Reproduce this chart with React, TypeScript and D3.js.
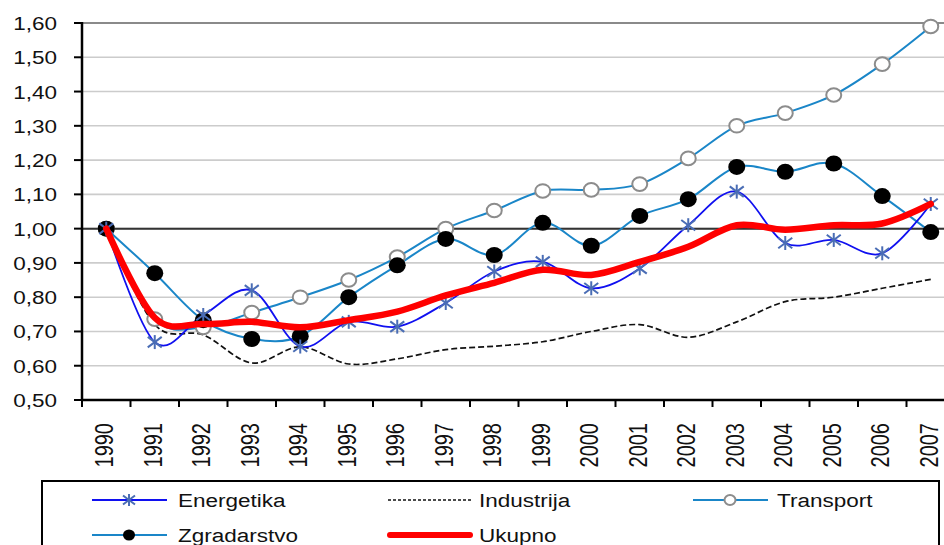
import React from 'react';
import * as d3 from 'd3';

const years = ['1990', '1991', '1992', '1993', '1994', '1995', '1996', '1997', '1998', '1999',
  '2000', '2001', '2002', '2003', '2004', '2005', '2006', '2007'];

const energetika = [1.0, 0.669, 0.748, 0.82, 0.656, 0.728, 0.714, 0.783, 0.875, 0.903,
  0.826, 0.884, 1.01, 1.108, 0.958, 0.967, 0.928, 1.072];
const industrija = [1.0, 0.72, 0.69, 0.608, 0.655, 0.605, 0.62, 0.647, 0.657, 0.67,
  0.70, 0.72, 0.683, 0.728, 0.787, 0.80, 0.826, 0.852];
const transport = [1.0, 0.736, 0.712, 0.755, 0.80, 0.85, 0.917, 1.0, 1.053, 1.11,
  1.113, 1.13, 1.205, 1.30, 1.337, 1.39, 1.48, 1.59];
const zgradarstvo = [1.0, 0.87, 0.733, 0.678, 0.686, 0.80, 0.893, 0.97, 0.923, 1.017,
  0.95, 1.037, 1.086, 1.18, 1.166, 1.19, 1.095, 0.99];
const ukupno = [1.0, 0.74, 0.722, 0.728, 0.712, 0.733, 0.758, 0.805, 0.842, 0.88,
  0.865, 0.903, 0.947, 1.01, 0.997, 1.01, 1.015, 1.072];

const yTicks = [0.5, 0.6, 0.7, 0.8, 0.9, 1.0, 1.1, 1.2, 1.3, 1.4, 1.5, 1.6];

const W = 944;
const H = 545;
const FONT = '"Liberation Sans", Arial, sans-serif';

const x = d3.scaleBand<string>().domain(years).range([82, 955]);
const y = d3.scaleLinear().domain([0.5, 1.6]).range([400, 23]);
const cx = (i: number) => (x(years[i]) as number) + x.bandwidth() / 2;

// excel-ish smoothed lines
const smooth = d3.line<number>()
  .x((_, i) => cx(i))
  .y(d => y(d))
  .curve(d3.curveCatmullRom.alpha(0));

const fmt = (v: number) => v.toFixed(2).replace('.', ',');

function Star({ px, py, s = 7 }: { px: number; py: number; s?: number }) {
  return (
    <g stroke="#4a6db5" strokeWidth={2}>
      <line x1={px - s} y1={py - s * 0.75} x2={px + s} y2={py + s * 0.75} />
      <line x1={px - s} y1={py + s * 0.75} x2={px + s} y2={py - s * 0.75} />
      <line x1={px} y1={py - s} x2={px} y2={py + s} />
    </g>
  );
}

export default function App() {
  const left = 82;
  const right = W;
  return (
    <svg width={W} height={H} style={{ position: 'absolute', left: 0, top: 0, background: '#fff' }}
      fontFamily={FONT}>
      <rect width={W} height={H} fill="#fff" />
      {/* gridlines */}
      {yTicks.map(t => (
        <line key={t} x1={left} x2={right} y1={y(t)} y2={y(t)}
          stroke={t === 1.6 ? '#8a8a8a' : '#cccccc'} strokeWidth={t === 1.6 ? 2 : 1.6} />
      ))}
      {/* reference line at 1.00 */}
      <line x1={left} x2={right} y1={y(1)} y2={y(1)} stroke="#333" strokeWidth={2} />

      {/* y axis */}
      <line x1={left} x2={left} y1={y(1.6) - 1} y2={y(0.5) + 1} stroke="#000" strokeWidth={2.5} />
      {yTicks.map(t => (
        <g key={'yt' + t}>
          <line x1={left - 8} x2={left} y1={y(t)} y2={y(t)} stroke="#000" strokeWidth={2} />
          <text transform={`translate(57,${y(t) + 7}) scale(1.25,1)`} textAnchor="end"
            fontSize={18} fill="#111">{fmt(t)}</text>
        </g>
      ))}

      {/* x axis */}
      <line x1={left} x2={right} y1={y(0.5)} y2={y(0.5)} stroke="#000" strokeWidth={2.5} />
      {years.map(yr => (
        <g key={yr}>
          <line x1={x(yr) as number} x2={x(yr) as number} y1={400} y2={407} stroke="#000" strokeWidth={2} />
          <text transform={`translate(${(x(yr) as number) + x.bandwidth() / 2 + 7},423) scale(1.3,1) rotate(-90)`}
            textAnchor="end" fontSize={20} fill="#111">{yr}</text>
        </g>
      ))}

      {/* series */}
      <path d={smooth(industrija) as string} fill="none" stroke="#111" strokeWidth={1.7} strokeDasharray="6,3" />
      <path d={smooth(transport) as string} fill="none" stroke="#1a86c8" strokeWidth={2} />
      <path d={smooth(zgradarstvo) as string} fill="none" stroke="#1a86c8" strokeWidth={2} />
      <path d={smooth(energetika) as string} fill="none" stroke="#1010f0" strokeWidth={1.8} />
      {transport.map((v, i) => (
        <ellipse key={'t' + i} cx={cx(i)} cy={y(v)} rx={7.5} ry={6.8} fill="#fff" stroke="#8c8c8c" strokeWidth={2} />
      ))}
      {zgradarstvo.map((v, i) => (
        <ellipse key={'z' + i} cx={cx(i)} cy={y(v)} rx={8.5} ry={8} fill="#000" />
      ))}
      {energetika.map((v, i) => (
        <Star key={'e' + i} px={cx(i)} py={y(v)} />
      ))}
      <path d={smooth(ukupno) as string} fill="none" stroke="#ff0000" strokeWidth={6.5}
        strokeLinecap="round" strokeLinejoin="round" />

      {/* legend */}
      <rect x={42} y={481} width={897} height={80} fill="#fff" stroke="#000" strokeWidth={2} />
      <g>
        <line x1={92} x2={167} y1={500} y2={500} stroke="#1010f0" strokeWidth={2} />
        <Star px={129} py={500} s={6} />
        <text transform="translate(178,507) scale(1.25,1)" fontSize={18} fill="#111">Energetika</text>

        <line x1={388} x2={472} y1={500} y2={500} stroke="#111" strokeWidth={1.6} strokeDasharray="3,2" />
        <text transform="translate(479,507) scale(1.25,1)" fontSize={18} fill="#111">Industrija</text>

        <line x1={693} x2={768} y1={500} y2={500} stroke="#1a86c8" strokeWidth={2} />
        <ellipse cx={730} cy={500} rx={5.5} ry={5} fill="#fff" stroke="#8c8c8c" strokeWidth={2} />
        <text transform="translate(777,507) scale(1.25,1)" fontSize={18} fill="#111">Transport</text>

        <line x1={92} x2={167} y1={535} y2={535} stroke="#1a86c8" strokeWidth={2} />
        <ellipse cx={129} cy={535} rx={6} ry={5.5} fill="#000" />
        <text transform="translate(178,542) scale(1.25,1)" fontSize={18} fill="#111">Zgradarstvo</text>

        <line x1={390} x2={470} y1={535} y2={535} stroke="#ff0000" strokeWidth={6} strokeLinecap="round" />
        <text transform="translate(479,542) scale(1.25,1)" fontSize={18} fill="#111">Ukupno</text>
      </g>
    </svg>
  );
}
